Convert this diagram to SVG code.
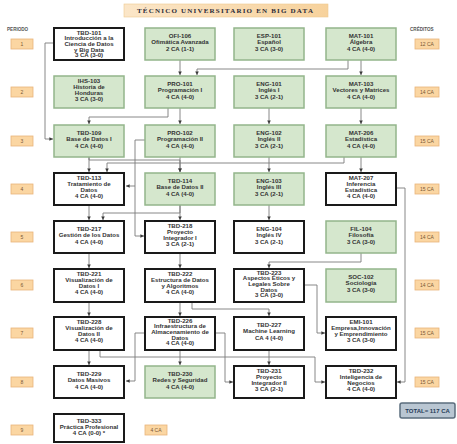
<svg xmlns="http://www.w3.org/2000/svg" width="457" height="444" viewBox="0 0 457 444">
<defs>
<marker id="ar" viewBox="0 0 6 6" refX="6" refY="3" markerWidth="4" markerHeight="4" orient="auto"><path d="M0,0L6,3L0,6z" fill="#3a3a3a"/></marker>
<linearGradient id="tg" x1="0" y1="0" x2="1" y2="0"><stop offset="0" stop-color="#fbe6c8"/><stop offset="1" stop-color="#f7d29c"/></linearGradient>
</defs>
<style>
.g{fill:#d5e7cd;stroke:#93b58b;stroke-width:1.5}
.w{fill:#fff;stroke:#1a1a1a;stroke-width:2}
.t{font-family:"Liberation Sans",Arial,sans-serif;font-size:6.1px;font-weight:bold;fill:#333;text-anchor:middle}
.c path{fill:none;stroke:#7a7a7a;stroke-width:0.9;marker-end:url(#ar)}
.o{fill:#fbd6a2;stroke:#e9b57a;stroke-width:0.8}
.ot{font-family:"Liberation Sans",Arial,sans-serif;font-size:5px;fill:#7a5634;text-anchor:middle}
.lb{font-family:"Liberation Sans",Arial,sans-serif;font-size:4.6px;font-weight:bold;fill:#555}
</style>
<rect width="457" height="444" fill="#fff"/>
<g id="title">
<rect x="124" y="4" width="204" height="13" fill="url(#tg)" stroke="#efc98f" stroke-width="0.6"/>
<text x="137" y="13.2" textLength="176" lengthAdjust="spacing" style="font-family:'Liberation Serif','Times New Roman',serif;font-size:7px;font-weight:bold;fill:#2b2b3a">TÉCNICO UNIVERSITARIO EN BIG DATA</text>
</g>
<g id="labels">
<text class="lb" x="7" y="31">PERIODO</text>
<text class="lb" x="410" y="31">CRÉDITOS</text>
</g>
<g id="periods">
<rect class="o" x="11" y="39" width="22" height="10"/><text class="ot" x="22" y="45.8">1</text>
<rect class="o" x="11" y="87" width="22" height="10"/><text class="ot" x="22" y="93.8">2</text>
<rect class="o" x="11" y="136" width="22" height="10"/><text class="ot" x="22" y="142.8">3</text>
<rect class="o" x="11" y="184" width="22" height="10"/><text class="ot" x="22" y="190.8">4</text>
<rect class="o" x="11" y="232" width="22" height="10"/><text class="ot" x="22" y="238.8">5</text>
<rect class="o" x="11" y="280" width="22" height="10"/><text class="ot" x="22" y="286.8">6</text>
<rect class="o" x="11" y="328" width="22" height="10"/><text class="ot" x="22" y="334.8">7</text>
<rect class="o" x="11" y="377" width="22" height="10"/><text class="ot" x="22" y="383.8">8</text>
<rect class="o" x="11" y="425" width="22" height="10"/><text class="ot" x="22" y="431.8">9</text>
</g>
<g id="credits">
<rect class="o" x="415" y="39" width="24" height="10"/><text class="ot" x="427" y="45.8">12 CA</text>
<rect class="o" x="415" y="87" width="24" height="10"/><text class="ot" x="427" y="93.8">14 CA</text>
<rect class="o" x="415" y="136" width="24" height="10"/><text class="ot" x="427" y="142.8">15 CA</text>
<rect class="o" x="415" y="184" width="24" height="10"/><text class="ot" x="427" y="190.8">15 CA</text>
<rect class="o" x="415" y="232" width="24" height="10"/><text class="ot" x="427" y="238.8">14 CA</text>
<rect class="o" x="415" y="280" width="24" height="10"/><text class="ot" x="427" y="286.8">14 CA</text>
<rect class="o" x="415" y="328" width="24" height="10"/><text class="ot" x="427" y="334.8">15 CA</text>
<rect class="o" x="415" y="377" width="24" height="10"/><text class="ot" x="427" y="383.8">15 CA</text>
<rect class="o" x="145" y="425" width="22" height="10"/><text class="ot" x="156" y="431.8">4 CA</text>
</g>
<g id="total">
<rect x="400" y="403" width="55" height="15" rx="2" fill="#b9c6d2" stroke="#5b6d7e" stroke-width="1.5"/>
<text x="427.5" y="412.8" style="font-family:'Liberation Sans',Arial,sans-serif;font-size:6px;font-weight:bold;fill:#263b58;text-anchor:middle">TOTAL= 117 CA</text>
</g>
<g id="connectors" class="c">
<path d="M53,43 H45 V139 H53"/>
<path d="M180,60 V75"/>
<path d="M348,60 V69 H197 V75"/>
<path d="M361,60 V75"/>
<path d="M269,108 V124"/>
<path d="M361,108 V124"/>
<path d="M168,108 V117 H89 V124"/>
<path d="M180,108 V124"/>
<path d="M89,157 V172"/>
<path d="M89,157 V160 H180 V172"/>
<path d="M180,157 V172"/>
<path d="M344,157 V163 H107 V172"/>
<path d="M145,140 H135 V186 H126"/>
<path d="M135,186 V236 H144"/>
<path d="M269,157 V172"/>
<path d="M361,157 V172"/>
<path d="M89,205 V220"/>
<path d="M180,205 V213 H103 V220"/>
<path d="M180,205 V220"/>
<path d="M269,205 V220"/>
<path d="M396,188 H405 V382 H397"/>
<path d="M89,253 V268"/>
<path d="M180,253 V268"/>
<path d="M361,253 V262 H269 V268"/>
<path d="M89,302 V316"/>
<path d="M180,302 V316"/>
<path d="M192,302 V309 H269 V316"/>
<path d="M304,285 H317 V333 H325"/>
<path d="M89,350 V365"/>
<path d="M180,350 V365"/>
<path d="M145,333 H135 V381 H126"/>
<path d="M215,333 H225 V382 H233"/>
<path d="M100,350 V357 H315 V382 H325"/>
<path d="M269,350 V365"/>
</g>
<g id="TBD-101"><rect class="w" x="54" y="28" width="70" height="32"/><text class="t" y="34.8"><tspan x="89">TBD-101</tspan><tspan x="89" dy="5.6">Introducción a la</tspan><tspan x="89" dy="5.6">Ciencia  de Datos</tspan><tspan x="89" dy="5.6">y Big Data</tspan><tspan x="89" dy="5.6">3 CA (3-0)</tspan></text></g>
<g id="OFI-106"><rect class="g" x="145" y="28" width="70" height="32"/><text class="t" y="37.7"><tspan x="180">OFI-106</tspan><tspan x="180" dy="6.5">Ofimática Avanzada</tspan><tspan x="180" dy="6.5">2 CA (1-1)</tspan></text></g>
<g id="ESP-101"><rect class="g" x="234" y="28" width="70" height="32"/><text class="t" y="37.7"><tspan x="269">ESP-101</tspan><tspan x="269" dy="6.5">Español</tspan><tspan x="269" dy="6.5">3 CA (3-0)</tspan></text></g>
<g id="MAT-101"><rect class="g" x="326" y="28" width="70" height="32"/><text class="t" y="37.7"><tspan x="361">MAT-101</tspan><tspan x="361" dy="6.5">Álgebra</tspan><tspan x="361" dy="6.5">4 CA (4-0)</tspan></text></g>
<g id="IHS-103"><rect class="g" x="54" y="76" width="70" height="32"/><text class="t" y="83.2"><tspan x="89">IHS-103</tspan><tspan x="89" dy="6">Historia de</tspan><tspan x="89" dy="6">Honduras</tspan><tspan x="89" dy="6">3 CA (3-0)</tspan></text></g>
<g id="PRO-101"><rect class="g" x="145" y="76" width="70" height="32"/><text class="t" y="85.7"><tspan x="180">PRO-101</tspan><tspan x="180" dy="6.5">Programación I</tspan><tspan x="180" dy="6.5">4 CA (4-0)</tspan></text></g>
<g id="ENG-101"><rect class="g" x="234" y="76" width="70" height="32"/><text class="t" y="85.7"><tspan x="269">ENG-101</tspan><tspan x="269" dy="6.5">Inglés I</tspan><tspan x="269" dy="6.5">3 CA (2-1)</tspan></text></g>
<g id="MAT-103"><rect class="g" x="326" y="76" width="70" height="32"/><text class="t" y="85.7"><tspan x="361">MAT-103</tspan><tspan x="361" dy="6.5">Vectores y Matrices</tspan><tspan x="361" dy="6.5">4 CA (4-0)</tspan></text></g>
<g id="TBD-109"><rect class="g" x="54" y="125" width="70" height="32"/><text class="t" y="134.7"><tspan x="89">TBD-109</tspan><tspan x="89" dy="6.5">Base de Datos I</tspan><tspan x="89" dy="6.5">4 CA (4-0)</tspan></text></g>
<g id="PRO-102"><rect class="g" x="145" y="125" width="70" height="32"/><text class="t" y="134.7"><tspan x="180">PRO-102</tspan><tspan x="180" dy="6.5">Programación II</tspan><tspan x="180" dy="6.5">4 CA (4-0)</tspan></text></g>
<g id="ENG-102"><rect class="g" x="234" y="125" width="70" height="32"/><text class="t" y="134.7"><tspan x="269">ENG-102</tspan><tspan x="269" dy="6.5">Inglés II</tspan><tspan x="269" dy="6.5">3 CA (2-1)</tspan></text></g>
<g id="MAT-206"><rect class="g" x="326" y="125" width="70" height="32"/><text class="t" y="134.7"><tspan x="361">MAT-206</tspan><tspan x="361" dy="6.5">Estadística</tspan><tspan x="361" dy="6.5">4 CA (4-0)</tspan></text></g>
<g id="TBD-113"><rect class="w" x="54" y="173" width="70" height="32"/><text class="t" y="180.2"><tspan x="89">TBD-113</tspan><tspan x="89" dy="6">Tratamiento de</tspan><tspan x="89" dy="6">Datos</tspan><tspan x="89" dy="6">4 CA (4-0)</tspan></text></g>
<g id="TBD-114"><rect class="g" x="145" y="173" width="70" height="32"/><text class="t" y="182.7"><tspan x="180">TBD-114</tspan><tspan x="180" dy="6.5">Base de Datos II</tspan><tspan x="180" dy="6.5">4 CA (4-0)</tspan></text></g>
<g id="ENG-103"><rect class="g" x="234" y="173" width="70" height="32"/><text class="t" y="182.7"><tspan x="269">ENG-103</tspan><tspan x="269" dy="6.5">Inglés III</tspan><tspan x="269" dy="6.5">3 CA (2-1)</tspan></text></g>
<g id="MAT-207"><rect class="w" x="326" y="173" width="70" height="32"/><text class="t" y="180.2"><tspan x="361">MAT-207</tspan><tspan x="361" dy="6">Inferencia</tspan><tspan x="361" dy="6">Estadística</tspan><tspan x="361" dy="6">4 CA (4-0)</tspan></text></g>
<g id="TBD-217"><rect class="w" x="54" y="221" width="70" height="32"/><text class="t" y="230.7"><tspan x="89">TBD-217</tspan><tspan x="89" dy="6.5">Gestión de los Datos</tspan><tspan x="89" dy="6.5">4 CA (4-0)</tspan></text></g>
<g id="TBD-218"><rect class="w" x="145" y="221" width="70" height="32"/><text class="t" y="228.2"><tspan x="180">TBD-218</tspan><tspan x="180" dy="6">Proyecto</tspan><tspan x="180" dy="6">Integrador I</tspan><tspan x="180" dy="6">3 CA (2-1)</tspan></text></g>
<g id="ENG-104"><rect class="w" x="234" y="221" width="70" height="32"/><text class="t" y="230.7"><tspan x="269">ENG-104</tspan><tspan x="269" dy="6.5">Inglés IV</tspan><tspan x="269" dy="6.5">3 CA (2-1)</tspan></text></g>
<g id="FIL-104"><rect class="g" x="326" y="221" width="70" height="32"/><text class="t" y="230.7"><tspan x="361">FIL-104</tspan><tspan x="361" dy="6.5">Filosofía</tspan><tspan x="361" dy="6.5">3 CA (3-0)</tspan></text></g>
<g id="TBD-221"><rect class="w" x="54" y="269" width="70" height="33"/><text class="t" y="276.2"><tspan x="89">TBD-221</tspan><tspan x="89" dy="6">Visualización de</tspan><tspan x="89" dy="6">Datos I</tspan><tspan x="89" dy="6">4 CA (4-0)</tspan></text></g>
<g id="TBD-222"><rect class="w" x="145" y="269" width="70" height="33"/><text class="t" y="276.2"><tspan x="180">TBD-222</tspan><tspan x="180" dy="6">Estructura de Datos</tspan><tspan x="180" dy="6">y Algoritmos</tspan><tspan x="180" dy="6">4 CA (4-0)</tspan></text></g>
<g id="TBD-223"><rect class="w" x="234" y="269" width="70" height="33"/><text class="t" y="274.8"><tspan x="269">TBD-223</tspan><tspan x="269" dy="5.6">Aspectos Éticos y</tspan><tspan x="269" dy="5.6">Legales Sobre</tspan><tspan x="269" dy="5.6">Datos</tspan><tspan x="269" dy="5.6">3 CA (3-0)</tspan></text></g>
<g id="SOC-102"><rect class="g" x="326" y="269" width="70" height="33"/><text class="t" y="278.7"><tspan x="361">SOC-102</tspan><tspan x="361" dy="6.5">Sociología</tspan><tspan x="361" dy="6.5">3 CA (3-0)</tspan></text></g>
<g id="TBD-228"><rect class="w" x="54" y="317" width="70" height="33"/><text class="t" y="324.2"><tspan x="89">TBD-228</tspan><tspan x="89" dy="6">Visualización de</tspan><tspan x="89" dy="6">Datos II</tspan><tspan x="89" dy="6">4 CA (4-0)</tspan></text></g>
<g id="TBD-226"><rect class="w" x="145" y="317" width="70" height="33"/><text class="t" y="322.8"><tspan x="180">TBD-226</tspan><tspan x="180" dy="5.6">Infraestructura de</tspan><tspan x="180" dy="5.6">Almacenamiento de</tspan><tspan x="180" dy="5.6">Datos</tspan><tspan x="180" dy="5.6">4 CA (4-0)</tspan></text></g>
<g id="TBD-227"><rect class="w" x="234" y="317" width="70" height="33"/><text class="t" y="326.7"><tspan x="269">TBD-227</tspan><tspan x="269" dy="6.5">Machine Learning</tspan><tspan x="269" dy="6.5">CA 4 (4-0)</tspan></text></g>
<g id="EMI-101"><rect class="w" x="326" y="317" width="70" height="33"/><text class="t" y="324.2"><tspan x="361">EMI-101</tspan><tspan x="361" dy="6">Empresa,Innovación</tspan><tspan x="361" dy="6">y Emprendimiento</tspan><tspan x="361" dy="6">3 CA (3-0)</tspan></text></g>
<g id="TBD-229"><rect class="w" x="54" y="366" width="70" height="32"/><text class="t" y="375.7"><tspan x="89">TBD-229</tspan><tspan x="89" dy="6.5">Datos Masivos</tspan><tspan x="89" dy="6.5">4 CA (4-0)</tspan></text></g>
<g id="TBD-230"><rect class="g" x="145" y="366" width="70" height="32"/><text class="t" y="375.7"><tspan x="180">TBD-230</tspan><tspan x="180" dy="6.5">Redes y Seguridad</tspan><tspan x="180" dy="6.5">4 CA (4-0)</tspan></text></g>
<g id="TBD-231"><rect class="w" x="234" y="366" width="70" height="32"/><text class="t" y="373.2"><tspan x="269">TBD-231</tspan><tspan x="269" dy="6">Proyecto</tspan><tspan x="269" dy="6">Integrador II</tspan><tspan x="269" dy="6">3 CA (2-1)</tspan></text></g>
<g id="TBD-232"><rect class="w" x="326" y="366" width="70" height="32"/><text class="t" y="373.2"><tspan x="361">TBD-232</tspan><tspan x="361" dy="6">Inteligencia de</tspan><tspan x="361" dy="6">Negocios</tspan><tspan x="361" dy="6">4 CA (4-0)</tspan></text></g>
<g id="TBD-333"><rect class="w" x="54" y="414" width="70" height="28"/><text class="t" y="422.5"><tspan x="89">TBD-333</tspan><tspan x="89" dy="6">Práctica Profesional</tspan><tspan x="89" dy="6">4 CA (0-0) *</tspan></text></g>
</svg>
